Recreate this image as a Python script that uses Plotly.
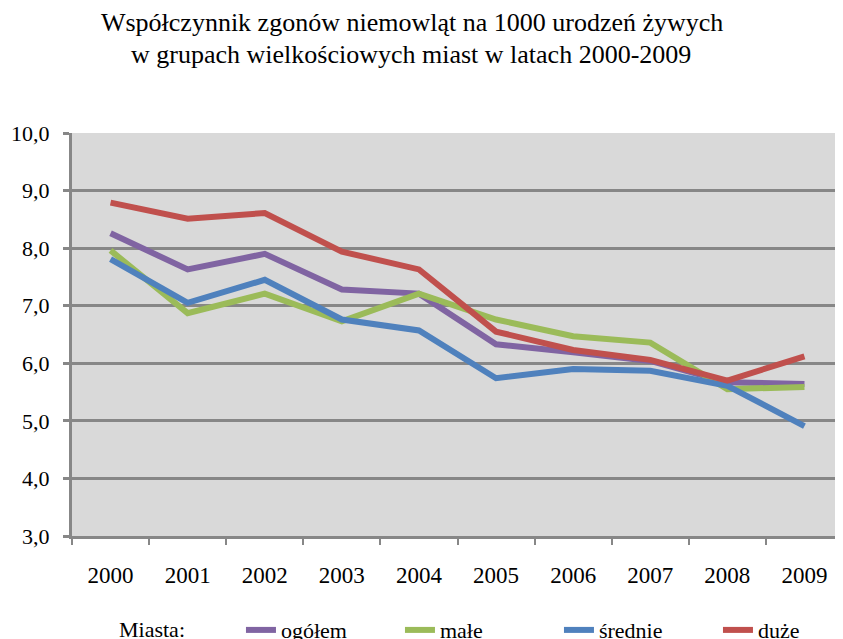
import plotly.graph_objects as go

years = ["2000", "2001", "2002", "2003", "2004", "2005", "2006", "2007", "2008", "2009"]

ogolem = [8.26, 7.63, 7.90, 7.28, 7.21, 6.33, 6.19, 6.04, 5.67, 5.64]
male = [7.96, 6.87, 7.21, 6.73, 7.21, 6.76, 6.47, 6.36, 5.55, 5.59]
srednie = [7.81, 7.05, 7.45, 6.76, 6.57, 5.74, 5.90, 5.87, 5.61, 4.91]
duze = [8.79, 8.51, 8.61, 7.94, 7.63, 6.55, 6.23, 6.06, 5.70, 6.12]

series = [
    ("ogółem", ogolem, "#8064a2"),
    ("małe", male, "#9bbb59"),
    ("średnie", srednie, "#4f81bd"),
    ("duże", duze, "#c0504d"),
]

FONT = "Liberation Serif"
GRID = "#878787"

fig = go.Figure()
for name, vals, color in series:
    fig.add_trace(go.Scatter(x=years, y=vals, name=name, mode="lines",
                             line=dict(color=color, width=6)))

# page body has an 8px margin, so the figure is 8px smaller than the window
fig.update_layout(
    width=835, height=631,
    margin=dict(l=64, r=0, t=125, b=103),
    paper_bgcolor="white",
    plot_bgcolor="#d9d9d9",
    font=dict(family=FONT, size=22, color="black"),
    separators=", ",
    title=dict(text="Współczynnik zgonów niemowląt na 1000 urodzeń żywych",
               x=0.484, xref="container", xanchor="center",
               y=0.978, yref="container", yanchor="middle",
               font=dict(family=FONT, size=26)),
    annotations=[
        dict(text="w grupach wielkościowych miast w latach 2000-2009",
             xref="paper", yref="paper", x=0.44, y=1.194,
             xanchor="center", yanchor="middle", showarrow=False,
             font=dict(family=FONT, size=26)),
        dict(text="Miasta:", xref="paper", yref="paper", x=0.058, y=-0.233,
             xanchor="left", yanchor="middle", showarrow=False,
             font=dict(family=FONT, size=22)),
    ],
    showlegend=True,
    legend=dict(orientation="h", x=0.279, xref="container", xanchor="left",
                y=0.0141, yref="container", yanchor="middle",
                font=dict(family=FONT, size=22),
                entrywidth=114, entrywidthmode="pixels",
                bgcolor="rgba(0,0,0,0)"),
)

fig.update_xaxes(type="category", tickson="boundaries",
                 showgrid=False, showline=True, linecolor=GRID, linewidth=3,
                 ticks="outside", ticklen=6, tickwidth=2, tickcolor=GRID,
                 ticklabelstandoff=16, range=[-0.5, 9.5],
                 tickfont=dict(size=23))
fig.update_yaxes(range=[3, 10], dtick=1, tickformat=".1f",
                 showgrid=True, gridcolor=GRID, gridwidth=2.5,
                 showline=True, linecolor=GRID, linewidth=3,
                 ticks="outside", ticklen=6, tickwidth=2.5, tickcolor=GRID,
                 ticklabelstandoff=9, zeroline=False)

fig.write_html("out.html")
